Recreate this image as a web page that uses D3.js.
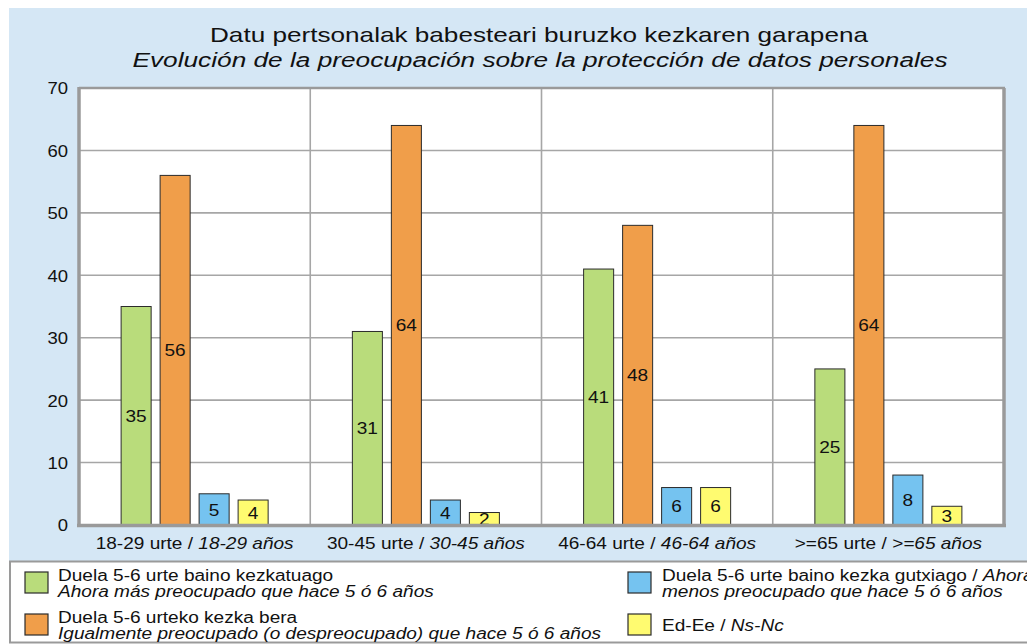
<!DOCTYPE html>
<html>
<head>
<meta charset="utf-8">
<script src="https://cdn.jsdelivr.net/npm/d3@7"></script>
<style>
html,body{margin:0;padding:0;background:#fff;overflow:hidden;}
svg{display:block;font-family:"Liberation Sans",Arial,sans-serif;}
</style>
</head>
<body>
<svg id="chart" width="1027" height="644"></svg>
<script>
const titleEu = "Datu pertsonalak babesteari buruzko kezkaren garapena";
const titleEs = "Evolución de la preocupación sobre la protección de datos personales";
const categoriesEu = ["18-29 urte", "30-45 urte", "46-64 urte", ">=65 urte"];
const categoriesEs = ["18-29 años", "30-45 años", "46-64 años", ">=65 años"];
const seriesKeys = ["more", "same", "less", "nsnc"];
const moreValues = [35, 31, 41, 25];
const sameValues = [56, 64, 48, 64];
const lessValues = [5, 4, 6, 8];
const nsncValues = [4, 2, 6, 3];
const seriesColors = ["#b9dc7b", "#f09e4a", "#75c3f0", "#fffb70"];
const yTicks = [0, 10, 20, 30, 40, 50, 60, 70];

const svg = d3.select("#chart");
const W = 1027, H = 644;
const plot = {left: 79, right: 1004, top: 88, bottom: 525};
const FS = 17;
const STRETCH = 1.12;
const LFS = 16;
const LSTRETCH = 1.19;

function stretch(sel, f) {
  sel.each(function () {
    const len = this.getComputedTextLength();
    d3.select(this).attr("textLength", len * f).attr("lengthAdjust", "spacingAndGlyphs");
  });
}

// background panel
svg.append("rect").attr("x", 0).attr("y", 0).attr("width", W).attr("height", H).attr("fill", "#ffffff");
svg.append("rect").attr("x", 9).attr("y", 8).attr("width", W - 9).attr("height", 553).attr("fill", "#d5e7f5");

// titles
svg.append("text").attr("x", 539).attr("y", 42).attr("text-anchor", "middle")
  .attr("font-size", 21).attr("fill", "#111").text(titleEu)
  .attr("textLength", 658).attr("lengthAdjust", "spacingAndGlyphs");
svg.append("text").attr("x", 540).attr("y", 67).attr("text-anchor", "middle")
  .attr("font-size", 20).attr("font-style", "italic").attr("fill", "#111").text(titleEs)
  .attr("textLength", 815).attr("lengthAdjust", "spacingAndGlyphs");

// scales
const x0 = d3.scaleBand().domain(categoriesEu).range([plot.left, plot.right]).padding(0);
const x1 = d3.scaleBand().domain(seriesKeys).range([0, x0.bandwidth()]).paddingInner(0.23).paddingOuter(1.08);
const y = d3.scaleLinear().domain([0, 70]).range([plot.bottom, plot.top]);

// plot background
svg.append("rect").attr("x", plot.left).attr("y", plot.top)
  .attr("width", plot.right - plot.left).attr("height", plot.bottom - plot.top).attr("fill", "#fff");

// horizontal grid
svg.append("g").selectAll("line").data(yTicks.filter(d => d > 0 && d < 70)).join("line")
  .attr("x1", plot.left).attr("x2", plot.right)
  .attr("y1", d => y(d)).attr("y2", d => y(d))
  .attr("stroke", "#a6a6a6").attr("stroke-width", 1.6);

// vertical group separators
svg.append("g").selectAll("line").data(categoriesEu.slice(1)).join("line")
  .attr("x1", d => x0(d)).attr("x2", d => x0(d))
  .attr("y1", plot.top).attr("y2", plot.bottom)
  .attr("stroke", "#a6a6a6").attr("stroke-width", 1.6);

// frame
svg.append("line").attr("x1", plot.left).attr("x2", plot.right + 1).attr("y1", plot.top).attr("y2", plot.top)
  .attr("stroke", "#9a9a9a").attr("stroke-width", 2.5);
svg.append("line").attr("x1", plot.right).attr("x2", plot.right).attr("y1", plot.top).attr("y2", plot.bottom + 2)
  .attr("stroke", "#9a9a9a").attr("stroke-width", 3.5);
svg.append("line").attr("x1", plot.left).attr("x2", plot.left).attr("y1", plot.top - 1).attr("y2", plot.bottom + 2)
  .attr("stroke", "#9a9a9a").attr("stroke-width", 3.5);

// y axis labels
const yAxis = svg.append("g").attr("transform", `translate(${plot.left - 11},0)`)
  .call(d3.axisLeft(y).tickValues(yTicks).tickSize(0).tickPadding(0));
yAxis.select(".domain").remove();
yAxis.selectAll("text").attr("font-size", 16.5).attr("fill", "#111")
  .attr("font-family", "'Liberation Sans', Arial, sans-serif").attr("dy", "0.36em").call(stretch, STRETCH);

// data rows
const rows = categoriesEu.map((c, i) => ({
  cat: c,
  vals: [
    {key: "more", v: moreValues[i], color: seriesColors[0]},
    {key: "same", v: sameValues[i], color: seriesColors[1]},
    {key: "less", v: lessValues[i], color: seriesColors[2]},
    {key: "nsnc", v: nsncValues[i], color: seriesColors[3]}
  ]
}));

const groups = svg.append("g").selectAll("g").data(rows).join("g")
  .attr("transform", d => `translate(${x0(d.cat)},0)`);

groups.selectAll("rect").data(d => d.vals).join("rect")
  .attr("x", d => x1(d.key)).attr("width", x1.bandwidth())
  .attr("y", d => y(d.v)).attr("height", d => y(0) - y(d.v))
  .attr("fill", d => d.color).attr("stroke", "#2b2b2b").attr("stroke-width", 1);

// bottom axis over bars
svg.append("line").attr("x1", plot.left - 2).attr("x2", plot.right + 2).attr("y1", plot.bottom + 0.5).attr("y2", plot.bottom + 0.5)
  .attr("stroke", "#9a9a9a").attr("stroke-width", 3.5);

groups.selectAll("text").data(d => d.vals).join("text")
  .attr("x", d => x1(d.key) + x1.bandwidth() / 2)
  .attr("y", d => (y(d.v) + y(0)) / 2)
  .attr("dy", "0.36em").attr("text-anchor", "middle")
  .attr("font-size", FS).attr("fill", "#111")
  .text(d => d.v).call(stretch, STRETCH);

// category labels
const catLabels = svg.append("g").selectAll("text").data(categoriesEu).join("text")
  .attr("x", d => x0(d) + x0.bandwidth() / 2).attr("y", 549)
  .attr("text-anchor", "middle").attr("font-size", FS).attr("fill", "#111");
catLabels.append("tspan").text(d => d + " / ");
catLabels.append("tspan").attr("font-style", "italic").text((d, i) => categoriesEs[i]);
catLabels.call(stretch, STRETCH);

// legend box
svg.append("rect").attr("x", 10).attr("y", 561.5).attr("width", W).attr("height", 81)
  .attr("fill", "#fff").attr("stroke", "#9a9a9a").attr("stroke-width", 2);

const legendItems = [
  {color: seriesColors[0], x: 25, y: 572, tx: 58, lines: [[["Duela 5-6 urte baino kezkatuago", false]], [["Ahora más preocupado que hace 5 ó 6 años", true]]], ly: [581, 597]},
  {color: seriesColors[1], x: 25, y: 614, tx: 58, lines: [[["Duela 5-6 urteko kezka bera", false]], [["Igualmente preocupado (o despreocupado) que hace 5 ó 6 años", true]]], ly: [623, 639]},
  {color: seriesColors[2], x: 628, y: 572, tx: 662, lines: [[["Duela 5-6 urte baino kezka gutxiago / ", false], ["Ahora", true]], [["menos preocupado que hace 5 ó 6 años", true]]], ly: [581, 597]},
  {color: seriesColors[3], x: 628, y: 614, tx: 662, lines: [[["Ed-Ee / ", false], ["Ns-Nc", true]]], ly: [631]}
];

const lg = svg.append("g").selectAll("g").data(legendItems).join("g");
lg.append("rect").attr("x", d => d.x).attr("y", d => d.y).attr("width", 23).attr("height", 21)
  .attr("fill", d => d.color).attr("stroke", "#2b2b2b").attr("stroke-width", 1.2);
lg.each(function (d) {
  const g = d3.select(this);
  d.lines.forEach((parts, li) => {
    const t = g.append("text").attr("x", d.tx).attr("y", d.ly[li]).attr("font-size", LFS).attr("fill", "#111");
    parts.forEach(p => t.append("tspan").attr("font-style", p[1] ? "italic" : "normal").text(p[0]));
    t.call(stretch, LSTRETCH);
  });
});
</script>
</body>
</html>
